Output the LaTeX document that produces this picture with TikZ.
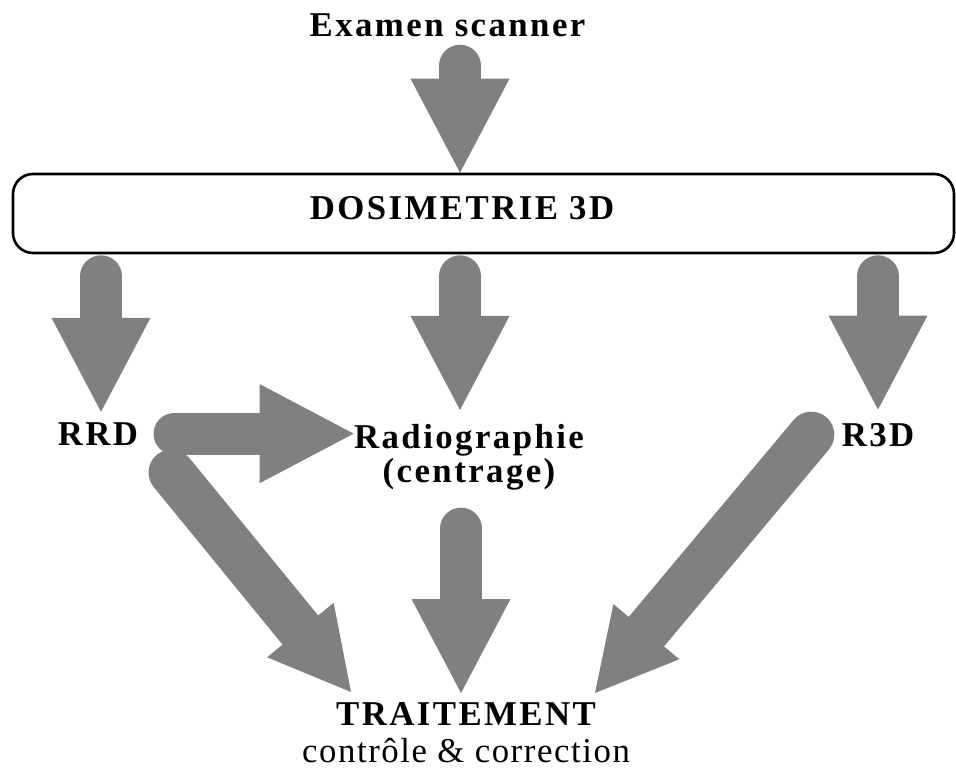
\documentclass[tikz,border=0pt]{standalone}
\usepackage{fontspec}
\setmainfont{Liberation Serif}
\newfontfamily\boldlbl[LetterSpace=7]{Liberation Serif}
\newfontfamily\plainlbl[LetterSpace=4.5]{Liberation Serif}
\usetikzlibrary{arrows.meta}
\definecolor{arrowgray}{RGB}{128,128,128}

\begin{document}
\begin{tikzpicture}[x=0.5pt, y=-0.5pt,
    lbl/.style={inner sep=0pt, font=\boldlbl\bfseries\fontsize{17.4}{17}\selectfont},
    bigarrow/.style={draw=arrowgray, line width=21pt, line cap=round,
      -{Triangle[length=47pt 0 0, width=49.5pt 0 0, line width=0pt 0 0]}},
    diagarrow/.style={draw=arrowgray, line width=23pt, line cap=round,
      -{Triangle[length=40pt 0 0, width=43pt 0 0, line width=0pt 0 0]}}]
  \useasboundingbox (0,0) rectangle (956,769);

  % labels and box
  \node[lbl, anchor=base] (exam) at (447.5,37) {Examen scanner};
  \node[draw, line width=1.3pt, rounded corners=10pt, minimum width=470.5pt,
    minimum height=39.5pt] (dosi) at (483.5,213.5) {};
  \node[lbl, anchor=base] (dosilbl) at (462,220) {DOSIMETRIE 3D};
  \node[lbl, anchor=base] (rrd) at (98,445) {RRD};
  \node[lbl, anchor=north, align=center] (radio) at (469,424) {Radiographie\\(centrage)};
  \node[lbl, anchor=base] (r3d) at (878,446) {R3D};
  \node[lbl, anchor=north, align=center] (trait) at (466,702)
    {TRAITEMENT\\[1.5pt]{\plainlbl\mdseries contrôle \& correction}};

  % arrows
  \draw[bigarrow, shorten <=14pt] ([xshift=6.25pt]exam.south) -- ([xshift=6.25pt]exam.south |- dosi.north);
  \draw[bigarrow, shorten <=11pt, shorten >=5pt] ([xshift=1.5pt]rrd.north |- dosi.south) -- ([xshift=1.5pt]rrd.north);
  \draw[bigarrow, shorten <=11pt, shorten >=7pt] ([xshift=-4.5pt]radio.north |- dosi.south) -- ([xshift=-4.5pt]radio.north);
  \draw[bigarrow, shorten <=11pt, shorten >=6.5pt] (r3d.north |- dosi.south) -- (r3d.north);
  \draw[bigarrow, shorten <=18pt] (rrd.east) -- (rrd.east -| radio.west);
  \draw[diagarrow] ([shift={(33,27)}]rrd.south east) -- ([shift={(-115,-10)}]trait.north);
  \draw[bigarrow, shorten <=19pt, shorten >=4.5pt] ([xshift=-4pt]radio.south) -- ([xshift=-4pt]radio.south |- trait.north);
  \draw[diagarrow] ([xshift=-15pt]r3d.west) -- ([shift={(129,-9)}]trait.north);
\end{tikzpicture}
\end{document}
